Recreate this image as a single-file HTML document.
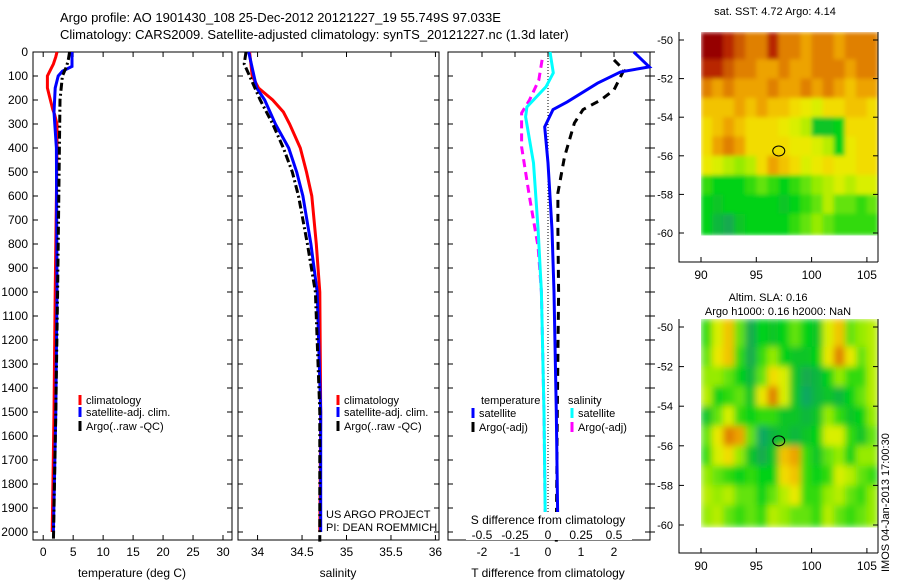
<!DOCTYPE html>
<html><head><meta charset="utf-8"><style>
body{margin:0;background:#fff}
svg{display:block;font-family:"Liberation Sans",sans-serif}
text{fill:#000}
</style></head><body>
<svg id="c" width="900" height="580" viewBox="0 0 900 580">
<defs>
<filter id="blurS" x="0" y="0" width="1" height="1"><feGaussianBlur stdDeviation="2" edgeMode="duplicate"/></filter>
<filter id="blurL" x="0" y="0" width="1" height="1"><feGaussianBlur stdDeviation="3.5" edgeMode="duplicate"/></filter>
</defs>
<text x="60" y="22" font-size="13">Argo profile: AO 1901430_108 25-Dec-2012 20121227_19 55.749S 97.033E</text>
<text x="60" y="39" font-size="13">Climatology: CARS2009. Satellite-adjusted climatology: synTS_20121227.nc (1.3d later)</text>
<text x="775" y="15" font-size="11" text-anchor="middle">sat. SST: 4.72 Argo: 4.14</text>
<text x="768" y="301" font-size="11" text-anchor="middle">Altim. SLA: 0.16</text>
<text x="778" y="315" font-size="11" text-anchor="middle">Argo h1000: 0.16 h2000: NaN</text>
<text transform="translate(889,572) rotate(-90)" font-size="11">IMOS 04-Jan-2013 17:00:30</text>
<text x="326" y="518" font-size="11">US ARGO PROJECT</text>
<text x="326" y="531" font-size="11">PI: DEAN ROEMMICH</text>
</svg>
<script>
// ---- data ----
const depthTicks=[0,100,200,300,400,500,600,700,800,900,1000,1100,1200,1300,1400,1500,1600,1700,1800,1900,2000];
const tTicks=[0,5,10,15,20,25,30];
const sTicks=[34,34.5,35,35.5,36];
const dtTicks=[-2,-1,0,1,2];
const dsTickLabels=["-0.5","-0.25","0","0.25","0.5"];
const dsTicks=[-0.5,-0.25,0,0.25,0.5];
const tClimDepth=[0,20,50,80,100,150,180,200,240,260,300,400,600,800,1000,1500,2000];
const tClimVal=[2.3,2.1,1.7,1.1,0.7,0.7,1.0,1.2,1.6,1.9,2.3,2.3,2.2,2.1,2.0,1.8,1.5];
const tSatDepth=[0,60,80,100,150,250,400,1000,1500,2000];
const tSatVal=[4.8,4.8,3.2,2.5,2.0,1.8,2.2,2.3,2.1,1.7];
const tArgoDepth=[0,30,60,100,200,400,1000,1500,2040];
const tArgoVal=[4.4,4.2,3.9,3.2,2.8,2.7,2.4,2.1,1.7];
const sClimDepth=[0,100,150,200,250,300,400,500,600,800,1000,1500,2000];
const sClimVal=[33.91,33.94,34.01,34.17,34.29,34.36,34.48,34.55,34.61,34.66,34.70,34.71,34.70];
const sSatDepth=[0,100,150,200,300,400,500,600,800,1000,1500,2000];
const sSatVal=[33.9,33.96,33.99,34.08,34.2,34.35,34.44,34.51,34.6,34.67,34.71,34.71];
const sArgoDepth=[0,50,100,200,300,400,500,600,800,1000,1500,2040];
const sArgoVal=[33.87,33.85,33.91,34.03,34.17,34.29,34.39,34.46,34.56,34.65,34.7,34.7];
const dtSatDepth=[0,62,83,130,208,240,312,462,740,1000,1500,2000];
const dtSatVal=[2.6,3.07,2.2,1.5,0.58,0.15,-0.1,0,0.12,0.18,0.25,0.3];
const dtArgoDepth=[33,75,158,200,240,296,437,587,740,1000,1500,2040];
const dtArgoVal=[2.0,2.3,2.0,1.6,1.06,0.8,0.5,0.3,0.3,0.32,0.28,0.25];
const dsSatDepth=[0,87,145,229,270,462,740,1000,1500,2000];
const dsSatVal=[0.015,0.04,-0.015,-0.16,-0.17,-0.11,-0.075,-0.05,-0.03,-0.02];
const dsArgoDepth=[33,117,200,254,395,604,812,1000,1500,2000];
const dsArgoVal=[-0.045,-0.07,-0.14,-0.2,-0.2,-0.14,-0.075,-0.05,-0.03,-0.02];
const lonTicks=[90,95,100,105];
const latTicks=[-50,-52,-54,-56,-58,-60];
const sstGrid=[
[1.0,1.0,0.95,0.9,0.85,0.85,0.95,0.85,0.85,0.8,0.85,0.85,0.8,0.85,0.85,0.85],
[0.95,0.95,0.9,0.85,0.85,0.8,0.8,0.85,0.8,0.8,0.85,0.85,0.85,0.8,0.85,0.85],
[0.85,0.8,0.85,0.8,0.8,0.8,0.85,0.8,0.8,0.85,0.8,0.85,0.8,0.75,0.8,0.8],
[0.75,0.75,0.75,0.8,0.75,0.8,0.75,0.75,0.7,0.65,0.6,0.7,0.7,0.75,0.75,0.7],
[0.7,0.75,0.8,0.75,0.7,0.7,0.7,0.65,0.6,0.55,0.3,0.3,0.35,0.7,0.7,0.7],
[0.7,0.8,0.85,0.8,0.7,0.7,0.7,0.7,0.65,0.65,0.6,0.55,0.35,0.65,0.7,0.7],
[0.65,0.6,0.55,0.5,0.55,0.7,0.8,0.75,0.7,0.6,0.65,0.7,0.65,0.65,0.7,0.7],
[0.4,0.35,0.35,0.35,0.4,0.45,0.4,0.35,0.4,0.45,0.5,0.55,0.6,0.55,0.6,0.6],
[0.35,0.3,0.35,0.35,0.35,0.35,0.35,0.3,0.35,0.4,0.45,0.55,0.45,0.45,0.4,0.45],
[0.35,0.25,0.2,0.3,0.35,0.35,0.35,0.35,0.4,0.45,0.5,0.45,0.4,0.4,0.4,0.4]];
const slaGrid=[
[0.4,0.6,0.75,0.45,0.2,0.35,0.3,0.35,0.45,0.35,0.3,0.6,0.75,0.45,0.5,0.55],
[0.45,0.65,0.75,0.4,0.2,0.4,0.5,0.35,0.3,0.3,0.35,0.65,0.85,0.65,0.45,0.55],
[0.5,0.5,0.45,0.35,0.25,0.45,0.7,0.6,0.3,0.2,0.25,0.35,0.5,0.4,0.4,0.55],
[0.55,0.35,0.4,0.45,0.3,0.65,0.85,0.6,0.3,0.15,0.25,0.3,0.25,0.35,0.45,0.55],
[0.3,0.45,0.6,0.4,0.35,0.4,0.4,0.3,0.3,0.25,0.3,0.5,0.4,0.3,0.35,0.5],
[0.45,0.65,0.85,0.8,0.45,0.15,0.25,0.3,0.25,0.3,0.35,0.6,0.6,0.4,0.3,0.45],
[0.4,0.6,0.7,0.5,0.3,0.2,0.3,0.75,0.8,0.4,0.3,0.45,0.5,0.35,0.5,0.5],
[0.5,0.45,0.4,0.35,0.4,0.35,0.35,0.7,0.75,0.4,0.35,0.4,0.6,0.55,0.45,0.4],
[0.55,0.5,0.55,0.45,0.45,0.35,0.45,0.55,0.65,0.4,0.4,0.5,0.55,0.45,0.4,0.5],
[0.5,0.55,0.45,0.4,0.45,0.4,0.55,0.5,0.45,0.45,0.4,0.55,0.45,0.4,0.45,0.5]];
const argoLon=97.03, argoLat=-55.75;

// ---- helpers ----
const svg=document.getElementById('c');
const NS='http://www.w3.org/2000/svg';
function mk(tag,attrs,parent){const e=document.createElementNS(NS,tag);for(const k in attrs)e.setAttribute(k,attrs[k]);(parent||svg).appendChild(e);return e;}
function txt(x,y,s,anchor,size){const e=mk('text',{x:x,y:y,'font-size':size||12,'text-anchor':anchor||'start'});e.textContent=s;return e;}
const yD=d=>52+d*0.24;
const PT={x0:33,x1:232,v0:-1.7,v1:31.5};
const PS={x0:238,x1:439,v0:33.78,v1:36.04};
const PD={x0:448,x1:650,v0:-3.03,v1:3.09};
const sx=(p,v)=>p.x0+(v-p.v0)/(p.v1-p.v0)*(p.x1-p.x0);
const dsx=v=>548+v*132;
function frame(p,name){
  const r=mk('rect',{x:p.x0,y:52,width:p.x1-p.x0,height:488,fill:'none',stroke:'#000','stroke-width':1});
  
  
  depthTicks.forEach(d=>{const y=yD(d);mk('line',{x1:p.x0,x2:p.x0+5,y1:y,y2:y,stroke:'#000'});mk('line',{x1:p.x1,x2:p.x1-5,y1:y,y2:y,stroke:'#000'});});
}
function line(p,depths,vals,color,w,dash,name,fx){
  const pts=depths.map((d,i)=>(fx?fx(vals[i]):sx(p,vals[i])).toFixed(1)+','+yD(d).toFixed(1)).join(' ');
  const e=mk('polyline',{points:pts,fill:'none',stroke:color,'stroke-width':w,'stroke-dasharray':dash||'none'});
  
  
}
function legend(x,y,color,label,name){
  mk('line',{x1:x,x2:x,y1:y-9,y2:y+1,stroke:color,'stroke-width':3});
  const t=txt(x+6,y,label,'start',11);
  
  
}

// ---- panel 1 temperature ----
frame(PT,'temperature-panel');
depthTicks.forEach(d=>{const t=txt(28,yD(d)+4,String(d),'end',12);});
tTicks.forEach(v=>{const x=sx(PT,v);mk('line',{x1:x,x2:x,y1:540,y2:535,stroke:'#000'});mk('line',{x1:x,x2:x,y1:52,y2:57,stroke:'#000'});txt(x,556,String(v),'middle',12);});
txt(132,577,'temperature (deg C)','middle',12);
line(PT,tClimDepth,tClimVal,'#ff0000',3,null,'temp-climatology-line');
line(PT,tSatDepth,tSatVal,'#0000ff',3,null,'temp-satellite-line');
line(PT,tArgoDepth,tArgoVal,'#000',3,'8,3,2,3','temp-argo-line');
legend(80,404,'#ff0000','climatology','legend-climatology');
legend(80,416,'#0000ff','satellite-adj. clim.','legend-satellite');
legend(80,430,'#000','Argo(..raw -QC)','legend-argo');

// ---- panel 2 salinity ----
frame(PS,'salinity-panel');
sTicks.forEach(v=>{const x=sx(PS,v);mk('line',{x1:x,x2:x,y1:540,y2:535,stroke:'#000'});mk('line',{x1:x,x2:x,y1:52,y2:57,stroke:'#000'});txt(x,556,String(v),'middle',12);});
txt(338,577,'salinity','middle',12);
line(PS,sClimDepth,sClimVal,'#ff0000',3,null,'sal-climatology-line');
line(PS,sSatDepth,sSatVal,'#0000ff',3,null,'sal-satellite-line');
line(PS,sArgoDepth,sArgoVal,'#000',3,'8,3,2,3','sal-argo-line');
legend(338,404,'#ff0000','climatology','legend-climatology-2');
legend(338,416,'#0000ff','satellite-adj. clim.','legend-satellite-2');
legend(338,430,'#000','Argo(..raw -QC)','legend-argo-2');

// ---- panel 3 differences ----
frame(PD,'difference-panel');
depthTicks.forEach(d=>{const y=yD(d);mk('line',{x1:PD.x1,x2:PD.x1+5,y1:y,y2:y,stroke:'#000'});});
dtTicks.forEach(v=>{const x=sx(PD,v);mk('line',{x1:x,x2:x,y1:540,y2:535,stroke:'#000'});mk('line',{x1:x,x2:x,y1:52,y2:57,stroke:'#000'});txt(x,556,String(v),'middle',12);});
mk('line',{x1:548,x2:548,y1:52,y2:540,stroke:'#000','stroke-width':1,'stroke-dasharray':'1,2'});
line(PD,dsArgoDepth,dsArgoVal,'#ff00ff',3,'8,5','s-diff-argo-line',dsx);
line(PD,dsSatDepth,dsSatVal,'#00ffff',3,null,'s-diff-satellite-line',dsx);
line(PD,dtArgoDepth,dtArgoVal,'#000',3,'8,6','t-diff-argo-line');
line(PD,dtSatDepth,dtSatVal,'#0000ff',3,null,'t-diff-satellite-line');
mk('rect',{x:466,y:512,width:166,height:28,fill:'#fff'});
dsTicks.forEach((v,i)=>{txt(dsx(v),539,dsTickLabels[i],'middle',12);});
txt(548,524,'S difference from climatology','middle',12);
txt(548,577,'T difference from climatology','middle',12);
txt(481,404,'temperature','start',11);
txt(568,404,'salinity','start',11);
legend(473,417,'#0000ff','satellite','legend-t-satellite');
legend(473,431,'#000','Argo(-adj)','legend-t-argo');
legend(572,417,'#00ffff','satellite','legend-s-satellite');
legend(572,431,'#ff00ff','Argo(-adj)','legend-s-argo');

// ---- maps ----
const stops=[[0,[0,160,150]],[0.2,[20,170,80]],[0.35,[0,210,20]],[0.5,[150,235,0]],[0.62,[230,240,0]],[0.72,[245,215,0]],[0.82,[235,150,0]],[0.9,[205,90,0]],[0.96,[180,30,0]],[1,[150,0,0]]];
function cmap(v){for(let i=1;i<stops.length;i++){if(v<=stops[i][0]){const a=stops[i-1],b=stops[i],t=(v-a[0])/(b[0]-a[0]);return 'rgb('+a[1].map((c,k)=>Math.round(c+(b[1][k]-c)*t)).join(',')+')';}}return 'rgb(150,0,0)';}
function map(grid,top,lat50y,pxDeg,bottom,name,filt){
  const lx=v=>701+(v-90)*11.06;
  const ly=v=>lat50y+(-50-v)*pxDeg;
  const box=mk('rect',{x:679,y:top,width:199,height:bottom-top,fill:'#fff',stroke:'none'});
  
  
  const g=mk('g',{filter:'url(#'+filt+')'});
  grid.forEach((row,i)=>{
    const la0=i===0?-49.6:-50-i, la1=i===grid.length-1?-60.1:-51-i;
    row.forEach((v,j)=>{
      const x0=lx(90+j),x1=lx(91+j);
      const r=mk('rect',{x:x0.toFixed(2),y:ly(la0).toFixed(2),width:(x1-x0+0.4).toFixed(2),height:(ly(la1)-ly(la0)+0.4).toFixed(2),fill:cmap(v)},g);
      
      
    });
  });
  mk('polyline',{points:`679,${top} 679,${bottom} 878,${bottom}`,fill:'none',stroke:'#000'});
  mk('line',{x1:878,x2:878,y1:top,y2:bottom,stroke:'#000'});
  latTicks.forEach(v=>{const y=ly(v);mk('line',{x1:679,x2:684,y1:y,y2:y,stroke:'#000'});mk('line',{x1:878,x2:873,y1:y,y2:y,stroke:'#000'});txt(673,y+4,String(v),'end',11);});
  lonTicks.forEach(v=>{const x=lx(v);mk('line',{x1:x,x2:x,y1:bottom,y2:bottom-5,stroke:'#000'});txt(x,bottom+17,String(v),'middle',12);});
  const c=mk('ellipse',{cx:lx(argoLon),cy:ly(argoLat),rx:6,ry:5,fill:'none',stroke:'#000','stroke-width':1});
  
  
}
map(sstGrid,32,40,19.3,262,'sst-map','blurS');
map(slaGrid,319,327,19.8,553,'sla-map','blurL');
</script>
</body></html>
